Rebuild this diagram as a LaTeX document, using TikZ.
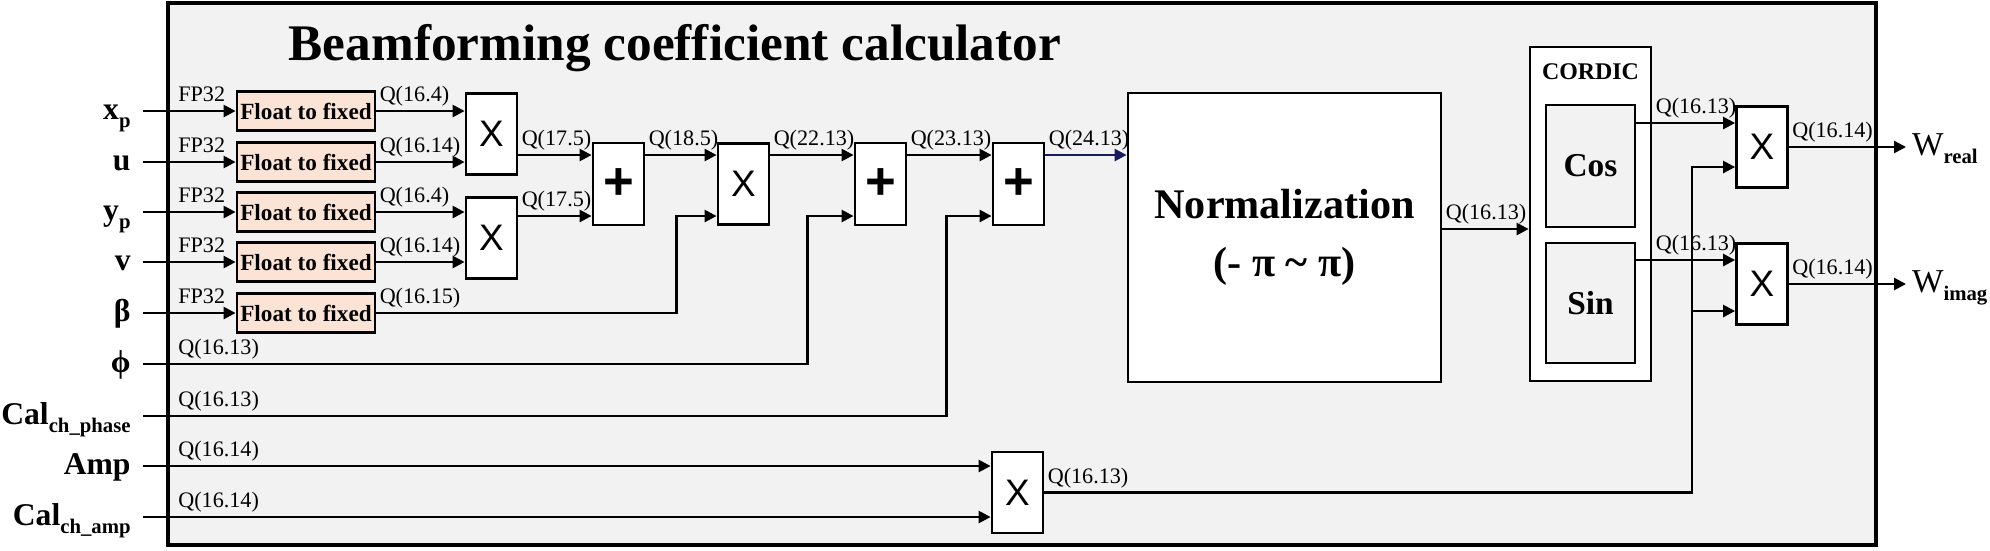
\documentclass[tikz,border=0pt]{standalone}
\usepackage{fontspec}
\setmainfont{Liberation Serif}
\newfontfamily\arialfont{Liberation Sans}
\usepackage{xcolor}
\usetikzlibrary{arrows.meta}
\definecolor{panel}{HTML}{F2F2F2}
\definecolor{floatfill}{HTML}{FBE4D5}
\definecolor{navyline}{HTML}{1A1A5E}
\newcommand{\dropsub}[1]{\raisebox{-2.5pt}{\fontsize{5.9}{7}\selectfont\bfseries #1}}

\begin{document}
\begin{tikzpicture}[
  blk/.style={draw, line width=0.8pt, fill=white, inner sep=0pt},
  convbox/.style={blk, fill=floatfill, minimum width=1.38cm, minimum height=0.39cm, font=\fontsize{6.6}{7}\selectfont\bfseries},
  multbox/.style={blk, minimum width=0.51cm, minimum height=0.81cm, font=\arialfont\fontsize{10.5}{12}\selectfont},
  adderbox/.style={blk, minimum width=0.51cm, minimum height=0.82cm, font=\arialfont\fontsize{15}{16}\selectfont\bfseries},
  trigbox/.style={blk, fill=panel, minimum width=0.89cm, font=\fontsize{9.5}{11}\selectfont\bfseries},
  inp/.style={anchor=mid east, font=\fontsize{9}{10}\selectfont\bfseries},
  outp/.style={anchor=mid west, inner sep=1.5pt, font=\fontsize{9.5}{11}\selectfont},
  lbl/.style={anchor=base west, yshift=0.95mm, inner sep=0.6pt, font=\fontsize{6.3}{7}\selectfont},
  wire/.style={line width=0.7pt, -{Triangle[length=3.4pt, width=3.4pt]}}
  ]
    \useasboundingbox (0,0) rectangle (19.9,-5.5);
    \draw[line width=0.9pt, fill=panel] (1.68,-0.03) rectangle (18.76,-5.45);
    \node[anchor=base west, inner sep=0pt, font=\fontsize{14.6}{16}\selectfont\bfseries] (title) at (2.88,-0.60) {Beamforming coefficient calculator};

    \node[inp] (xp) at (1.43,-1.11) {x\dropsub{p}};
    \node[inp] (u) at (1.43,-1.62) {u};
    \node[inp] (yp) at (1.43,-2.12) {y\dropsub{p}};
    \node[inp] (v) at (1.43,-2.62) {v};
    \node[inp] (beta) at (1.43,-3.13) {β};
    \node[inp] (phi) at (1.43,-3.64) {ϕ};
    \node[inp] (calph) at (1.43,-4.16) {Cal\dropsub{ch\_phase}};
    \node[inp] (amp) at (1.43,-4.66) {Amp};
    \node[inp] (calamp) at (1.43,-5.17) {Cal\dropsub{ch\_amp}};

    \node[convbox] (f1) at (3.06,-1.11) {Float to fixed};
    \node[convbox] (f2) at (3.06,-1.62) {Float to fixed};
    \node[convbox] (f3) at (3.06,-2.12) {Float to fixed};
    \node[convbox] (f4) at (3.06,-2.62) {Float to fixed};
    \node[convbox] (f5) at (3.06,-3.13) {Float to fixed};

    \node[multbox] (m1) at (4.915,-1.34) {X};
    \node[multbox] (m2) at (4.915,-2.38) {X};
    \node[adderbox] (a1) at (6.185,-1.84) {+};
    \node[multbox] (m3) at (7.435,-1.84) {X};
    \node[adderbox] (a2) at (8.805,-1.84) {+};
    \node[adderbox] (a3) at (10.185,-1.84) {+};
    \node[multbox] (m6) at (10.175,-4.925) {X};
    \node[blk, minimum width=3.13cm, minimum height=2.89cm, align=center, font=\fontsize{12}{16.5}\selectfont\bfseries] (norm) at (12.845,-2.375) {Normalization\\(- π \textasciitilde{} π)};
    \node[blk, minimum width=1.21cm, minimum height=3.34cm] (cordic) at (15.905,-2.14) {};
    \node[font=\fontsize{6.8}{8}\selectfont\bfseries] (cordlbl) at (15.905,-0.72) {CORDIC};
    \node[trigbox, minimum height=1.22cm] (cos) at (15.905,-1.66) {Cos};
    \node[trigbox, minimum height=1.20cm] (sin) at (15.905,-3.03) {Sin};
    \node[multbox] (m4) at (17.62,-1.47) {X};
    \node[multbox] (m5) at (17.62,-2.84) {X};
    \node[outp] (wre) at (19.06,-1.47) {W\dropsub{real}};
    \node[outp] (wim) at (19.06,-2.84) {W\dropsub{imag}};

    \coordinate (a1u) at ([yshift=2.9mm]a1.west);
    \coordinate (a1d) at ([yshift=-3.2mm]a1.west);
    \coordinate (m3u) at ([yshift=2.9mm]m3.west);
    \coordinate (m3d) at ([yshift=-3.2mm]m3.west);
    \coordinate (a2u) at ([yshift=2.9mm]a2.west);
    \coordinate (a2d) at ([yshift=-3.2mm]a2.west);
    \coordinate (a3u) at ([yshift=2.9mm]a3.west);
    \coordinate (a3d) at ([yshift=-3.2mm]a3.west);
    \coordinate (m4u) at ([yshift=2.4mm]m4.west);
    \coordinate (m4d) at ([yshift=-2mm]m4.west);
    \coordinate (m5u) at ([yshift=2.4mm]m5.west);
    \coordinate (m5d) at ([yshift=-2.7mm]m5.west);

    \draw[wire] (xp.mid east) node[lbl, xshift=3.2mm] {FP32} -- (f1.west);
    \draw[wire] (u.mid east) node[lbl, xshift=3.2mm] {FP32} -- (f2.west);
    \draw[wire] (yp.mid east) node[lbl, xshift=3.2mm] {FP32} -- (f3.west);
    \draw[wire] (v.mid east) node[lbl, xshift=3.2mm] {FP32} -- (f4.west);
    \draw[wire] (beta.mid east) node[lbl, xshift=3.2mm] {FP32} -- (f5.west);

    \draw[wire] (f1.east) node[lbl] {Q(16.4)} -- (f1.east -| m1.west);
    \draw[wire] (f2.east) node[lbl] {Q(16.14)} -- (f2.east -| m1.west);
    \draw[wire] (f3.east) node[lbl] {Q(16.4)} -- (f3.east -| m2.west);
    \draw[wire] (f4.east) node[lbl] {Q(16.14)} -- (f4.east -| m2.west);
    \draw[wire] (m1.east |- a1u) node[lbl] {Q(17.5)} -- (a1u);
    \draw[wire] (m2.east |- a1d) node[lbl] {Q(17.5)} -- (a1d);
    \draw[wire] (a1.east |- m3u) node[lbl] {Q(18.5)} -- (m3u);
    \draw[wire] (f5.east) node[lbl] {Q(16.15)} -| ([xshift=-4mm]m3d) -- (m3d);
    \draw[wire] (m3.east |- a2u) node[lbl] {Q(22.13)} -- (a2u);
    \draw[wire] (phi.mid east) node[lbl, xshift=3.2mm] {Q(16.13)} -| ([xshift=-4.6mm]a2d) -- (a2d);
    \draw[wire] (a2.east |- a3u) node[lbl] {Q(23.13)} -- (a3u);
    \draw[wire] (calph.mid east) node[lbl, xshift=3.2mm] {Q(16.13)} -| ([xshift=-4.5mm]a3d) -- (a3d);
    \draw[wire, navyline] (a3.east |- a3u) node[lbl, black] {Q(24.13)} -- (a3u -| norm.west);
    \draw[wire] (amp.mid east) node[lbl, xshift=3.2mm] {Q(16.14)} -- (amp.mid east -| m6.west);
    \draw[wire] (calamp.mid east) node[lbl, xshift=3.2mm] {Q(16.14)} -- (calamp.mid east -| m6.west);

    \draw[wire] ([yshift=0.85mm]norm.east) node[lbl] {Q(16.13)} -- ([yshift=0.85mm]norm.east -| cordic.west);
    \draw[wire] (cos.east |- m4u) node[lbl, xshift=1.6mm] {Q(16.13)} -- (m4u);
    \draw[wire] (sin.east |- m5u) node[lbl, xshift=1.6mm] {Q(16.13)} -- (m5u);
    \draw[wire] (m6.east) node[lbl] {Q(16.13)} -| ([xshift=-4.3mm]m4d) -- (m4d);
    \draw[wire] ([xshift=-4.3mm]m5d) -- (m5d);
    \draw[wire] (m4.east) node[lbl] {Q(16.14)} -- (wre.mid west);
    \draw[wire] (m5.east) node[lbl] {Q(16.14)} -- (wim.mid west);
\end{tikzpicture}
\end{document}
